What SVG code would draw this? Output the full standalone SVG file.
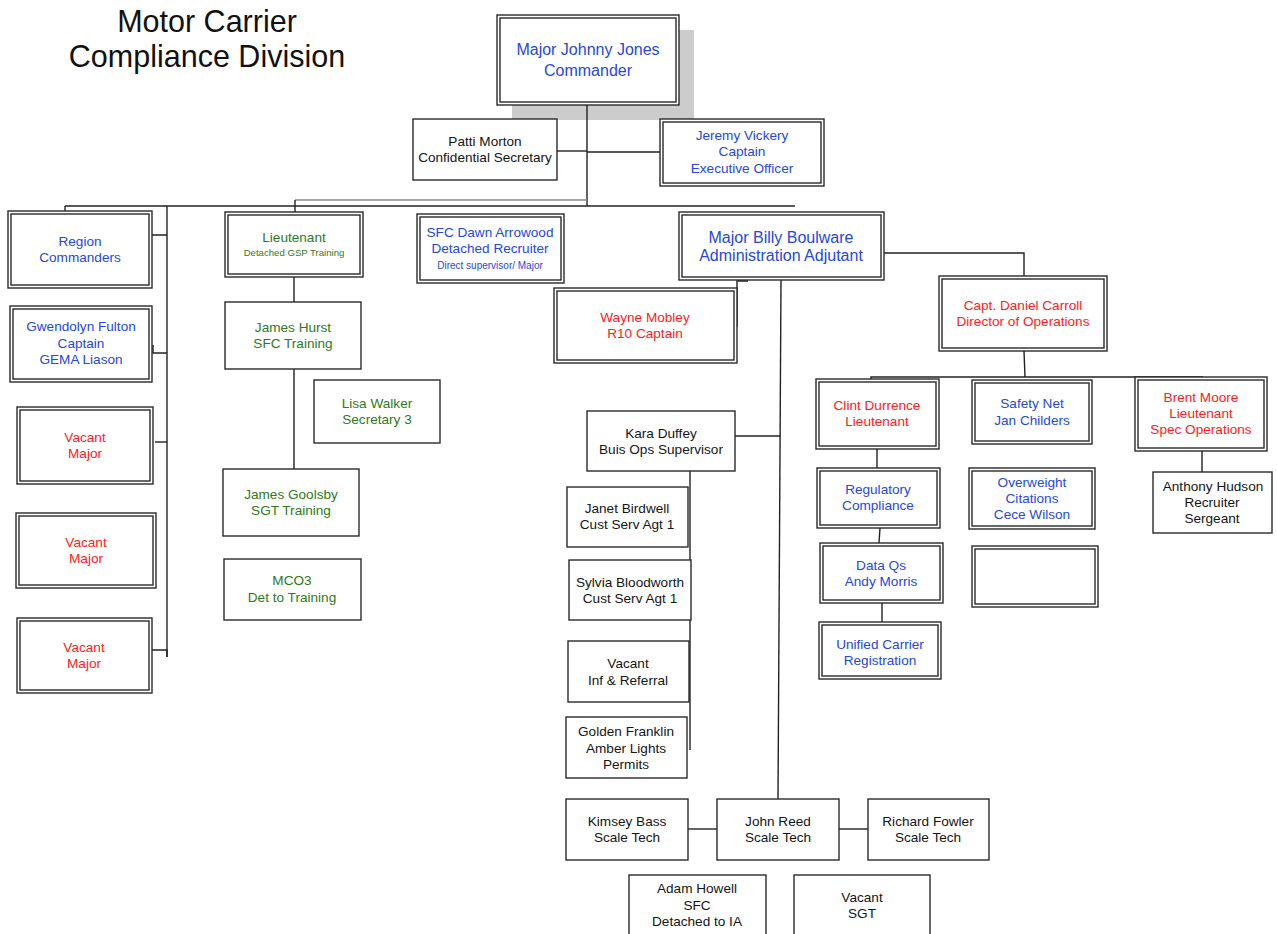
<svg xmlns="http://www.w3.org/2000/svg" width="1277" height="934" viewBox="0 0 1277 934">
<style>
.b{fill:#fff;stroke:#2a2a2a;stroke-width:1.4}
.i{fill:none;stroke:#2a2a2a;stroke-width:1.4}
.t{font-family:"Liberation Sans",Arial,sans-serif;font-size:13.6px;text-anchor:middle;dominant-baseline:central}
.big{font-size:16px}
.sm{font-size:9.6px}
.title{font-family:"Liberation Sans",Arial,sans-serif;font-size:30.5px;text-anchor:middle;fill:#111}
.bl{fill:#2747dd}
.rd{fill:#ff2020}
.gr{fill:#2f7a22}
.k{fill:#151515}
#connectors path{fill:none;stroke:#222;stroke-width:1.4}
</style>
<rect width="1277" height="934" fill="#fff"/>
<text class="title" x="207" y="32">Motor Carrier</text>
<text class="title" x="207" y="67">Compliance Division</text>
<rect x="512" y="30" width="182" height="90" fill="#cccccc"/>
<g id="connectors">
<path d="M587,105 V206"/>
<path d="M557,151 H587"/>
<path d="M587,152 H660"/>
<path d="M65,206 H795"/>
<path d="M295,200 H587" style="stroke:#888"/>
<path d="M65,206 V211"/>
<path d="M295,200 V212"/>
<path d="M167,206 V657"/>
<path d="M151,242 V235 H167"/>
<path d="M153,345 V353 H167"/>
<path d="M155,442 H167"/>
<path d="M152,650 H167 V657"/>
<path d="M294,277 V302"/>
<path d="M294,369 V469"/>
<path d="M748,281 H737 V327"/>
<path d="M781,280 L778,799"/>
<path d="M735,436 H780"/>
<path d="M690,471 V750"/>
<path d="M884,253 H1024 V276"/>
<path d="M1024,351 L1025,377"/>
<path d="M871,379 V377 H1203"/>
<path d="M877,449 V468"/>
<path d="M880,528 L879,543"/>
<path d="M882,603 V622"/>
<path d="M1202,451 V474 H1215"/>
<path d="M688,829 H717"/>
<path d="M839,829 H868"/>
</g>
<g id="commander"><rect class="b" x="497" y="15" width="182" height="90"/><rect class="i" x="500" y="18" width="176" height="84"/>
<text class="t big bl" x="588" y="49">Major Johnny Jones</text><text class="t big bl" x="588" y="70">Commander</text></g>
<g id="patti"><rect class="b" x="413" y="119" width="144" height="61"/>
<text class="t k" x="485" y="141">Patti Morton</text><text class="t k" x="485" y="157">Confidential Secretary</text></g>
<g id="jeremy"><rect class="b" x="660" y="119" width="164" height="67"/><rect class="i" x="663" y="122" width="158" height="61"/>
<text class="t bl" x="742" y="135">Jeremy Vickery</text><text class="t bl" x="742" y="151">Captain</text><text class="t bl" x="742" y="168">Executive Officer</text></g>
<g id="region"><rect class="b" x="8" y="211" width="144" height="77"/><rect class="i" x="11" y="214" width="138" height="71"/>
<text class="t bl" x="80" y="241">Region</text><text class="t bl" x="80" y="257">Commanders</text></g>
<g id="gwendolyn"><rect class="b" x="10" y="306" width="142" height="76"/><rect class="i" x="13" y="309" width="136" height="70"/>
<text class="t bl" x="81" y="326">Gwendolyn Fulton</text><text class="t bl" x="81" y="343">Captain</text><text class="t bl" x="81" y="359">GEMA Liason</text></g>
<g id="vacant1"><rect class="b" x="17" y="407" width="136" height="77"/><rect class="i" x="20" y="410" width="130" height="71"/>
<text class="t rd" x="85" y="437">Vacant</text><text class="t rd" x="85" y="453">Major</text></g>
<g id="vacant2"><rect class="b" x="16" y="513" width="140" height="75"/><rect class="i" x="19" y="516" width="134" height="69"/>
<text class="t rd" x="86" y="542">Vacant</text><text class="t rd" x="86" y="558">Major</text></g>
<g id="vacant3"><rect class="b" x="17" y="618" width="135" height="75"/><rect class="i" x="20" y="621" width="129" height="69"/>
<text class="t rd" x="84" y="647">Vacant</text><text class="t rd" x="84" y="663">Major</text></g>
<g id="lieutenant"><rect class="b" x="225" y="212" width="138" height="65"/><rect class="i" x="228" y="215" width="132" height="59"/>
<text class="t gr" x="294" y="237">Lieutenant</text><text class="t sm gr" x="294" y="252">Detached GSP Training</text></g>
<g id="hurst"><rect class="b" x="225" y="302" width="136" height="67"/>
<text class="t gr" x="293" y="327">James Hurst</text><text class="t gr" x="293" y="343">SFC Training</text></g>
<g id="lisa"><rect class="b" x="314" y="380" width="126" height="63"/>
<text class="t gr" x="377" y="403">Lisa Walker</text><text class="t gr" x="377" y="419">Secretary 3</text></g>
<g id="goolsby"><rect class="b" x="223" y="469" width="136" height="67"/>
<text class="t gr" x="291" y="494">James Goolsby</text><text class="t gr" x="291" y="510">SGT Training</text></g>
<g id="mco3"><rect class="b" x="224" y="559" width="137" height="61"/>
<text class="t gr" x="292" y="580">MCO3</text><text class="t gr" x="292" y="597">Det to Training</text></g>
<g id="dawn"><rect class="b" x="417" y="214" width="147" height="69"/><rect class="i" x="420" y="217" width="141" height="63"/>
<text class="t bl" x="490" y="232">SFC Dawn Arrowood</text><text class="t bl" x="490" y="248">Detached Recruiter</text><text class="t bl" x="490" y="265" style="font-size:10px">Direct supervisor/ Major</text></g>
<g id="boulware"><rect class="b" x="679" y="212" width="205" height="68"/><rect class="i" x="682" y="215" width="199" height="62"/>
<text class="t big bl" x="781" y="237">Major Billy Boulware</text><text class="t big bl" x="781" y="255">Administration Adjutant</text></g>
<g id="wayne"><rect class="b" x="554" y="288" width="183" height="75"/><rect class="i" x="557" y="291" width="177" height="69"/>
<text class="t rd" x="645" y="317">Wayne Mobley</text><text class="t rd" x="645" y="333">R10 Captain</text></g>
<g id="carroll"><rect class="b" x="939" y="276" width="168" height="75"/><rect class="i" x="942" y="279" width="162" height="69"/>
<text class="t rd" x="1023" y="305">Capt. Daniel Carroll</text><text class="t rd" x="1023" y="321">Director of Operations</text></g>
<g id="clint"><rect class="b" x="816" y="379" width="123" height="70"/><rect class="i" x="819" y="382" width="117" height="64"/>
<text class="t rd" x="877" y="405">Clint Durrence</text><text class="t rd" x="877" y="421">Lieutenant</text></g>
<g id="safety"><rect class="b" x="972" y="380" width="120" height="64"/><rect class="i" x="975" y="383" width="114" height="58"/>
<text class="t bl" x="1032" y="403">Safety Net</text><text class="t bl" x="1032" y="420">Jan Childers</text></g>
<g id="brent"><rect class="b" x="1135" y="377" width="132" height="74"/><rect class="i" x="1138" y="380" width="126" height="68"/>
<text class="t rd" x="1201" y="397">Brent Moore</text><text class="t rd" x="1201" y="413">Lieutenant</text><text class="t rd" x="1201" y="429">Spec Operations</text></g>
<g id="regulatory"><rect class="b" x="817" y="468" width="123" height="60"/><rect class="i" x="820" y="471" width="117" height="54"/>
<text class="t bl" x="878" y="489">Regulatory</text><text class="t bl" x="878" y="505">Compliance</text></g>
<g id="overweight"><rect class="b" x="969" y="468" width="126" height="61"/><rect class="i" x="972" y="471" width="120" height="55"/>
<text class="t bl" x="1032" y="482">Overweight</text><text class="t bl" x="1032" y="498">Citations</text><text class="t bl" x="1032" y="514">Cece Wilson</text></g>
<g id="anthony"><rect class="b" x="1153" y="472" width="119" height="61"/>
<text class="t k" x="1213" y="486">Anthony Hudson</text><text class="t k" x="1212" y="502">Recruiter</text><text class="t k" x="1212" y="518">Sergeant</text></g>
<g id="dataqs"><rect class="b" x="820" y="543" width="123" height="60"/><rect class="i" x="823" y="546" width="117" height="54"/>
<text class="t bl" x="881" y="565">Data Qs</text><text class="t bl" x="881" y="581">Andy Morris</text></g>
<g id="empty"><rect class="b" x="972" y="546" width="126" height="61"/><rect class="i" x="975" y="549" width="120" height="55"/></g>
<g id="ucr"><rect class="b" x="819" y="622" width="122" height="57"/><rect class="i" x="822" y="625" width="116" height="51"/>
<text class="t bl" x="880" y="644">Unified Carrier</text><text class="t bl" x="880" y="660">Registration</text></g>
<g id="kara"><rect class="b" x="587" y="411" width="148" height="60"/>
<text class="t k" x="661" y="433">Kara Duffey</text><text class="t k" x="661" y="449">Buis Ops Supervisor</text></g>
<g id="janet"><rect class="b" x="567" y="487" width="121" height="60"/>
<text class="t k" x="627" y="508">Janet Birdwell</text><text class="t k" x="627" y="524">Cust Serv Agt 1</text></g>
<g id="sylvia"><rect class="b" x="569" y="560" width="122" height="60"/>
<text class="t k" x="630" y="582">Sylvia Bloodworth</text><text class="t k" x="630" y="598">Cust Serv Agt 1</text></g>
<g id="vacantinf"><rect class="b" x="568" y="641" width="121" height="61"/>
<text class="t k" x="628" y="663">Vacant</text><text class="t k" x="628" y="680">Inf &amp; Referral</text></g>
<g id="golden"><rect class="b" x="566" y="717" width="121" height="61"/>
<text class="t k" x="626" y="731">Golden Franklin</text><text class="t k" x="626" y="748">Amber Lights</text><text class="t k" x="626" y="764">Permits</text></g>
<g id="kimsey"><rect class="b" x="566" y="799" width="122" height="61"/>
<text class="t k" x="627" y="821">Kimsey Bass</text><text class="t k" x="627" y="837">Scale Tech</text></g>
<g id="john"><rect class="b" x="717" y="799" width="122" height="61"/>
<text class="t k" x="778" y="821">John Reed</text><text class="t k" x="778" y="837">Scale Tech</text></g>
<g id="richard"><rect class="b" x="868" y="799" width="121" height="61"/>
<text class="t k" x="928" y="821">Richard Fowler</text><text class="t k" x="928" y="837">Scale Tech</text></g>
<g id="adam"><rect class="b" x="629" y="875" width="137" height="70"/>
<text class="t k" x="697" y="888">Adam Howell</text><text class="t k" x="697" y="905">SFC</text><text class="t k" x="697" y="921">Detached to IA</text></g>
<g id="vacantsgt"><rect class="b" x="794" y="875" width="136" height="70"/>
<text class="t k" x="862" y="897">Vacant</text><text class="t k" x="862" y="913">SGT</text></g>
</svg>
